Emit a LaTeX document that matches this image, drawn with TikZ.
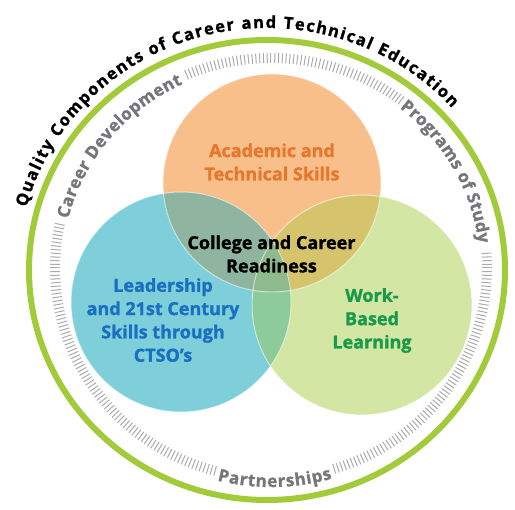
\documentclass[tikz,border=0pt]{standalone}
\usepackage{fontspec}
\setmainfont{Open Sans}[BoldFeatures={FakeBold=1.3}]
\usetikzlibrary{decorations.text}
\definecolor{orangeC}{HTML}{F9BF8B}
\definecolor{blueC}{HTML}{7ECFDA}
\definecolor{greenC}{HTML}{D4E6A3}
\definecolor{obC}{HTML}{8FB4A0}
\definecolor{ogC}{HTML}{D6C46C}
\definecolor{bgC}{HTML}{8ECB9B}
\definecolor{obgC}{HTML}{8FBA8C}
\definecolor{ringC}{HTML}{A2CB3A}
\definecolor{tickC}{HTML}{ABABAB}
\definecolor{labelC}{HTML}{75767A}
\definecolor{orangeT}{HTML}{E8772E}
\definecolor{blueT}{HTML}{1A70C0}
\definecolor{greenT}{HTML}{179A4A}
\newcommand\myTitleFont{\bfseries\fontsize{16.5}{16.5}\selectfont}
\newcommand\myLabelFont{\bfseries\fontsize{17}{17}\selectfont}
\newcommand\myCircFont{\bfseries\fontsize{18}{23.3}\selectfont}
\tikzset{
  circtext/.style={font=\myCircFont, align=center, inner sep=0pt},
  tickline/.style={tickC, line width=1pt},
  soft/.style={white, opacity=0.55, line width=1pt}
}
\begin{document}
\begin{tikzpicture}[x=1pt,y=1pt]
\useasboundingbox (-267,-240) rectangle (248,270);
\fill[white] (-267,-240) rectangle (248,270);
% circles
\fill[orangeC] (5,87) circle[radius=109];
\fill[blueC] (-86,-32) circle[radius=110];
\fill[greenC] (95,-35) circle[radius=110];
\begin{scope}\clip (5,87) circle[radius=109]; \fill[obC] (-86,-32) circle[radius=110];\end{scope}
\begin{scope}\clip (5,87) circle[radius=109]; \fill[ogC] (95,-35) circle[radius=110];\end{scope}
\begin{scope}\clip (-86,-32) circle[radius=110]; \fill[bgC] (95,-35) circle[radius=110];\end{scope}
\begin{scope}\clip (5,87) circle[radius=109]; \clip (-86,-32) circle[radius=110]; \fill[obgC] (95,-35) circle[radius=110];\end{scope}
\draw[soft] (5,87) circle[radius=109];
\draw[soft] (-86,-32) circle[radius=110];
\draw[soft] (95,-35) circle[radius=110];
% outer ring
\draw[ringC, line width=6pt] (0,0) ellipse[x radius=238, y radius=230];
% ticks
\foreach \a in {-73,-72,...,4.5}
  \draw[tickline] ({4+211*cos(\a)},{2+205*sin(\a)}) -- ({4+221*cos(\a)},{2+215*sin(\a)});
\foreach \a in {53,54,...,113}
  \draw[tickline] ({4+211*cos(\a)},{2+205*sin(\a)}) -- ({4+221*cos(\a)},{2+215*sin(\a)});
\foreach \a in {168,169,...,255.5}
  \draw[tickline] ({4+211*cos(\a)},{2+205*sin(\a)}) -- ({4+221*cos(\a)},{2+215*sin(\a)});
% title
\path[decorate, decoration={text along path, text align=fit to path,
  text={|\myTitleFont|Quality Components of Career and Technical Education}}]
  ({249*cos(165)},{242*sin(165)}) arc[start angle=165, end angle=42, x radius=249, y radius=242];
% ring labels
\path[decorate, decoration={text along path, text align=fit to path,
  text={|\myLabelFont\color{labelC}|Career Development}}]
  ({4+209*cos(166)},{2+203*sin(166)}) arc[start angle=166, end angle=115, x radius=209, y radius=203];
\path[decorate, decoration={text along path, text align=fit to path,
  text={|\myLabelFont\color{labelC}|Programs of Study}}]
  ({4+209*cos(52)},{2+203*sin(52)}) arc[start angle=52, end angle=7, x radius=209, y radius=203];
\path[decorate, decoration={text along path, text align=fit to path,
  text={|\myLabelFont\color{labelC}|Partnerships}}]
  ({4+222*cos(256)},{2+219*sin(256)}) arc[start angle=256, end angle=286, x radius=222, y radius=219];
% circle texts
\node[circtext, text=orangeT] (acad) at (5,108) {Academic and\\Technical Skills};
\node[circtext, text=black] (ccr) at (4.5,16) {College and Career\\Readiness};
\node[circtext, text=blueT] (lead) at (-104,-50) {Leadership\\and 21st Century\\Skills through\\CTSO’s};
\node[circtext, text=greenT] (work) at (105,-50.5) {Work-\\Based\\Learning};
\end{tikzpicture}
\end{document}
